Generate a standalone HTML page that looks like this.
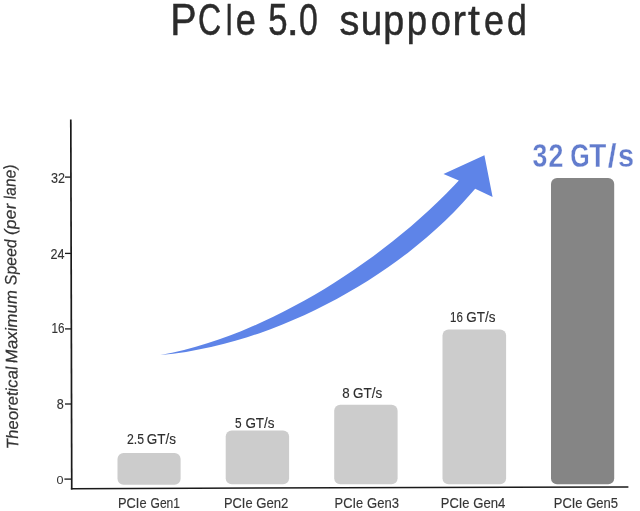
<!DOCTYPE html>
<html>
<head>
<meta charset="utf-8">
<title>PCIe 5.0 supported</title>
<style>
html,body{margin:0;padding:0;background:#ffffff;}
body{width:640px;height:511px;overflow:hidden;font-family:"Liberation Sans",sans-serif;}
svg{display:block;position:absolute;left:0;top:0;will-change:transform;}
text{font-family:"Liberation Sans",sans-serif;}
</style>
</head>
<body>
<svg width="640" height="511" viewBox="0 0 640 511">
<rect x="0" y="0" width="640" height="511" fill="#ffffff"/>

<!-- title -->
<g fill="#2b2b2b" stroke="#2b2b2b" stroke-width="0.5">
<text x="170.16" y="34.8" font-size="44" textLength="26.40" lengthAdjust="spacingAndGlyphs">P</text>
<text x="197.89" y="34.8" font-size="44" textLength="23.22" lengthAdjust="spacingAndGlyphs">C</text>
<text x="225.29" y="34.8" font-size="44" textLength="7.87" lengthAdjust="spacingAndGlyphs">I</text>
<text x="235.77" y="34.8" font-size="44" textLength="20.09" lengthAdjust="spacingAndGlyphs">e</text>
<text x="268.31" y="34.8" font-size="44" textLength="19.35" lengthAdjust="spacingAndGlyphs">5</text>
<text x="286.86" y="34.8" font-size="44" textLength="12.06" lengthAdjust="spacingAndGlyphs">.</text>
<text x="298.95" y="34.8" font-size="44" textLength="18.80" lengthAdjust="spacingAndGlyphs">0</text>
<text x="339.50" y="34.8" font-size="42" textLength="19.88" lengthAdjust="spacingAndGlyphs">s</text>
<text x="360.69" y="34.8" font-size="42" textLength="21.49" lengthAdjust="spacingAndGlyphs">u</text>
<text x="383.19" y="34.8" font-size="42" textLength="20.92" lengthAdjust="spacingAndGlyphs">p</text>
<text x="406.84" y="34.8" font-size="42" textLength="20.35" lengthAdjust="spacingAndGlyphs">p</text>
<text x="430.77" y="34.8" font-size="42" textLength="20.09" lengthAdjust="spacingAndGlyphs">o</text>
<text x="452.38" y="34.8" font-size="42" textLength="13.42" lengthAdjust="spacingAndGlyphs">r</text>
<text x="468.00" y="34.8" font-size="42" textLength="11.85" lengthAdjust="spacingAndGlyphs">t</text>
<text x="484.01" y="34.8" font-size="42" textLength="19.98" lengthAdjust="spacingAndGlyphs">e</text>
<text x="506.89" y="34.8" font-size="42" textLength="19.87" lengthAdjust="spacingAndGlyphs">d</text>
</g>

<!-- y axis label -->
<g font-size="16.5" font-style="italic" fill="#333333" stroke="#333333" stroke-width="0.2">
<text transform="translate(18.19 448.6) rotate(-90.58) skewX(4)" textLength="82.5" lengthAdjust="spacingAndGlyphs">Theoretical</text>
<text transform="translate(17.33 362.9) rotate(-90.58) skewX(4)" textLength="73.2" lengthAdjust="spacingAndGlyphs">Maximum</text>
<text transform="translate(16.54 284.9) rotate(-90.58) skewX(4)" textLength="46.1" lengthAdjust="spacingAndGlyphs">Speed</text>
<text transform="translate(16.03 234.8) rotate(-90.58) skewX(4)" textLength="31.6" lengthAdjust="spacingAndGlyphs">(per</text>
<text transform="translate(15.67 198.9) rotate(-90.58) skewX(4)" textLength="34.8" lengthAdjust="spacingAndGlyphs">lane)</text>
</g>

<!-- bars -->
<rect x="117.5" y="453" width="63.1" height="31.7" rx="6" ry="6" fill="#cccccc"/>
<rect x="225.7" y="430.5" width="63.4" height="53.8" rx="6" ry="6" fill="#cccccc"/>
<rect x="334.2" y="404.7" width="63.4" height="79.6" rx="6" ry="6" fill="#cccccc"/>
<rect x="442.5" y="329.5" width="63.6" height="154.8" rx="6" ry="6" fill="#cccccc"/>
<rect x="551" y="178" width="63.2" height="306.2" rx="6" ry="6" fill="#858585"/>

<!-- axes -->
<line x1="70.8" y1="119.6" x2="71.75" y2="489.4" stroke="#1a1a1a" stroke-width="1.7"/>
<line x1="70.9" y1="488.7" x2="628.4" y2="486.9" stroke="#1a1a1a" stroke-width="1.5"/>
<!-- ticks -->
<g stroke="#1a1a1a" stroke-width="1.3">
<line x1="65" y1="177.1" x2="71" y2="177.1"/>
<line x1="65" y1="253.4" x2="71" y2="253.4"/>
<line x1="65" y1="328.9" x2="71" y2="328.9"/>
<line x1="65" y1="404" x2="71.4" y2="404"/>
<line x1="64.4" y1="479.1" x2="71.6" y2="479.1"/>
</g>
<!-- tick labels -->
<g font-size="14.5" fill="#333333" stroke="#333333" stroke-width="0.12" text-anchor="end">
<text x="65" y="182.7" textLength="14" lengthAdjust="spacingAndGlyphs">32</text>
<text x="64.6" y="258.6" textLength="14" lengthAdjust="spacingAndGlyphs">24</text>
<text x="64.6" y="333.4" textLength="13" lengthAdjust="spacingAndGlyphs">16</text>
<text x="63.7" y="409" textLength="7" lengthAdjust="spacingAndGlyphs">8</text>
</g>
<text x="56.5" y="484.1" font-size="11.5" fill="#333333" textLength="7" lengthAdjust="spacingAndGlyphs">0</text>

<!-- bar labels -->
<g font-size="14.3" fill="#2e2e2e" stroke="#2e2e2e" stroke-width="0.15">
<text x="127" y="444.4" textLength="17" lengthAdjust="spacingAndGlyphs">2.5</text>
<text x="146.8" y="444.4" textLength="29.2" lengthAdjust="spacingAndGlyphs">GT/s</text>
<text x="235" y="427.9" textLength="6.6" lengthAdjust="spacingAndGlyphs">5</text>
<text x="245.4" y="427.9" textLength="29.2" lengthAdjust="spacingAndGlyphs">GT/s</text>
<text x="342.3" y="397.9" textLength="7.4" lengthAdjust="spacingAndGlyphs">8</text>
<text x="353.05" y="397.9" textLength="29.2" lengthAdjust="spacingAndGlyphs">GT/s</text>
<text x="450" y="321.9" textLength="12.8" lengthAdjust="spacingAndGlyphs">16</text>
<text x="466.2" y="321.9" textLength="29.2" lengthAdjust="spacingAndGlyphs">GT/s</text>
</g>
<g font-size="34" font-weight="bold" fill="#627ccd" stroke="#ffffff" stroke-width="0.3">
<text x="532.42" y="166.8" textLength="14.85" lengthAdjust="spacingAndGlyphs">3</text>
<text x="548.46" y="166.8" textLength="14.91" lengthAdjust="spacingAndGlyphs">2</text>
<text x="570.37" y="166.8" textLength="19.40" lengthAdjust="spacingAndGlyphs">G</text>
<text x="589.28" y="166.8" textLength="17.06" lengthAdjust="spacingAndGlyphs">T</text>
<text x="607.70" y="166.8" textLength="8.79" lengthAdjust="spacingAndGlyphs">/</text>
<text x="617.90" y="166.8" textLength="16.08" lengthAdjust="spacingAndGlyphs">s</text>
</g>

<!-- x labels -->
<g font-size="14.3" fill="#363636" stroke="#363636" stroke-width="0.15">
<text x="118.00" y="507.6" textLength="28.55" lengthAdjust="spacingAndGlyphs">PCIe</text>
<text x="150.55" y="507.6" textLength="29.45" lengthAdjust="spacingAndGlyphs">Gen1</text>
<text x="224.00" y="507.6" textLength="28.55" lengthAdjust="spacingAndGlyphs">PCIe</text>
<text x="256.20" y="507.6" textLength="32.20" lengthAdjust="spacingAndGlyphs">Gen2</text>
<text x="334.60" y="507.6" textLength="28.60" lengthAdjust="spacingAndGlyphs">PCIe</text>
<text x="367.05" y="507.6" textLength="31.95" lengthAdjust="spacingAndGlyphs">Gen3</text>
<text x="440.75" y="507.6" textLength="28.80" lengthAdjust="spacingAndGlyphs">PCIe</text>
<text x="473.30" y="507.6" textLength="32.10" lengthAdjust="spacingAndGlyphs">Gen4</text>
<text x="553.75" y="507.6" textLength="28.80" lengthAdjust="spacingAndGlyphs">PCIe</text>
<text x="586.20" y="507.6" textLength="31.95" lengthAdjust="spacingAndGlyphs">Gen5</text>
</g>

<!-- arrow -->
<path fill="#5e84e8" d="M160.3 355.1 L172.1 352.7 L184.0 349.9 L195.8 346.8 L207.3 343.3 L218.7 339.5 L229.9 335.5 L241.0 331.2 L251.9 326.6 L262.6 321.8 L273.3 316.8 L283.8 311.6 L294.2 306.1 L304.5 300.5 L314.7 294.7 L324.8 288.7 L334.7 282.5 L344.6 276.1 L354.4 269.5 L364.0 262.8 L373.6 255.9 L383.0 248.8 L392.4 241.5 L401.6 234.1 L410.8 226.4 L419.8 218.6 L428.7 210.5 L437.4 202.3 L446.1 193.8 L454.6 185.0 L458.8 180.6 L443.5 174 L484.4 155.3 L492.6 197 L475.2 188.8 L471.0 193.6 L462.5 203.1 L453.8 212.2 L444.9 220.9 L435.9 229.3 L426.6 237.5 L417.2 245.3 L407.7 252.9 L397.9 260.2 L388.1 267.3 L378.1 274.1 L367.9 280.7 L357.6 287.0 L347.2 293.1 L336.7 299.0 L326.0 304.6 L315.2 310.0 L304.2 315.2 L293.1 320.1 L281.9 324.8 L270.5 329.2 L258.9 333.4 L247.2 337.2 L235.3 340.8 L223.3 344.1 L211.0 347.0 L198.6 349.6 L186.0 351.9 L173.1 353.8 L160.3 355.1 Z"/>
</svg>
</body>
</html>
